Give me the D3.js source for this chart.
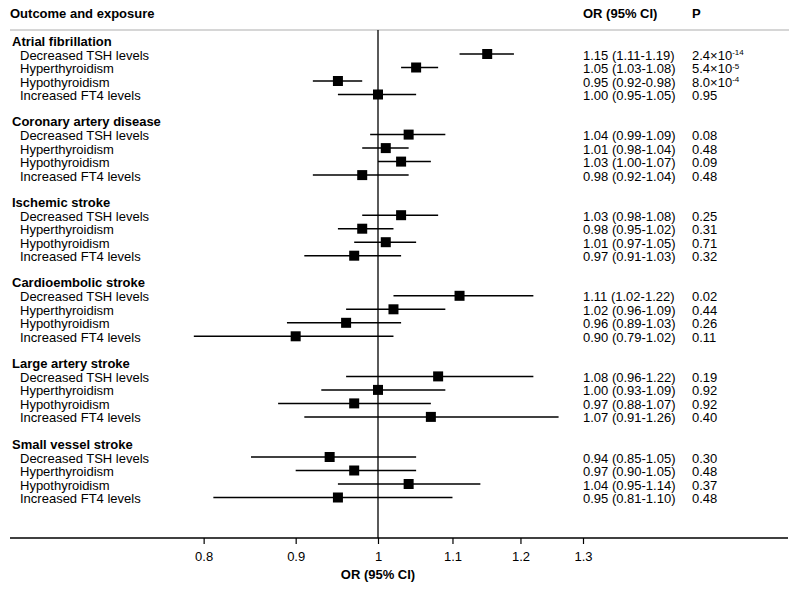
<!DOCTYPE html>
<html>
<head>
<meta charset="utf-8">
<script src="https://cdn.jsdelivr.net/npm/d3@7"></script>
<style>
  body { margin: 0; background: #fff; }
  svg { font-family: "Liberation Sans", Arial, Helvetica, sans-serif; }
</style>
</head>
<body>
<svg id="chart" width="800" height="596"></svg>
<script>
// Forest plot data
const outcomes = ["Atrial fibrillation", "Coronary artery disease", "Ischemic stroke",
                  "Cardioembolic stroke", "Large artery stroke", "Small vessel stroke"];
const exposures = ["Decreased TSH levels", "Hyperthyroidism", "Hypothyroidism", "Increased FT4 levels"];

const orValues = [
  [1.15, 1.05, 0.95, 1.00],
  [1.04, 1.01, 1.03, 0.98],
  [1.03, 0.98, 1.01, 0.97],
  [1.11, 1.02, 0.96, 0.90],
  [1.08, 1.00, 0.97, 1.07],
  [0.94, 0.97, 1.04, 0.95]
];
const lowerCI = [
  [1.11, 1.03, 0.92, 0.95],
  [0.99, 0.98, 1.00, 0.92],
  [0.98, 0.95, 0.97, 0.91],
  [1.02, 0.96, 0.89, 0.79],
  [0.96, 0.93, 0.88, 0.91],
  [0.85, 0.90, 0.95, 0.81]
];
const upperCI = [
  [1.19, 1.08, 0.98, 1.05],
  [1.09, 1.04, 1.07, 1.04],
  [1.08, 1.02, 1.05, 1.03],
  [1.22, 1.09, 1.03, 1.02],
  [1.22, 1.09, 1.07, 1.26],
  [1.05, 1.05, 1.14, 1.10]
];
const pValues = [
  ["2.4×10^-14", "5.4×10^-5", "8.0×10^-4", "0.95"],
  ["0.08", "0.48", "0.09", "0.48"],
  ["0.25", "0.31", "0.71", "0.32"],
  ["0.02", "0.44", "0.26", "0.11"],
  ["0.19", "0.92", "0.92", "0.40"],
  ["0.30", "0.48", "0.37", "0.48"]
];
const tickValues = [0.8, 0.9, 1, 1.1, 1.2, 1.3];

const svg = d3.select("#chart");
const fs = 13;

const x = d3.scaleLog().domain([1, 1.3]).range([378, 583]);

const plotTop = 30, axisY = 538;
const sectionY = s => 41 + s * 80.6;
const rowY = (s, r) => sectionY(s) + 14 + r * 13.5;

// header
svg.append("text").attr("x", 10).attr("y", 13).attr("dy", "0.35em")
  .attr("font-size", fs).attr("font-weight", "bold").text("Outcome and exposure");
svg.append("text").attr("x", 583).attr("y", 13).attr("dy", "0.35em")
  .attr("font-size", fs).attr("font-weight", "bold").text("OR (95% CI)");
svg.append("text").attr("x", 692).attr("y", 13).attr("dy", "0.35em")
  .attr("font-size", fs).attr("font-weight", "bold").text("P");

svg.append("line").attr("x1", 10).attr("x2", 789).attr("y1", plotTop).attr("y2", plotTop)
  .attr("stroke", "#c8c8c8").attr("stroke-width", 1.5);

// reference line at OR = 1
svg.append("line").attr("x1", x(1)).attr("x2", x(1)).attr("y1", plotTop).attr("y2", axisY)
  .attr("stroke", "#000").attr("stroke-width", 1.3);

// x axis
svg.append("line").attr("x1", 10).attr("x2", 788).attr("y1", axisY).attr("y2", axisY)
  .attr("stroke", "#000").attr("stroke-width", 1.3);
const axis = d3.axisBottom(x).tickValues(tickValues).tickFormat(d3.format("")).tickSize(6).tickSizeOuter(0);
const axisG = svg.append("g").attr("transform", `translate(0,${axisY})`).call(axis);
axisG.select(".domain").remove();
axisG.selectAll("line").attr("stroke", "#000").attr("stroke-width", 1.2);
axisG.selectAll("text").attr("font-size", fs).attr("font-family", null).attr("fill", "#000").attr("dy", "1.1em");
svg.append("text").attr("x", x(1)).attr("y", 579).attr("text-anchor", "middle")
  .attr("font-size", fs).attr("font-weight", "bold").text("OR (95% CI)");

// sections
outcomes.forEach((outcome, s) => {
  svg.append("text").attr("x", 12).attr("y", sectionY(s)).attr("dy", "0.35em")
    .attr("font-size", fs).attr("font-weight", "bold").text(outcome);

  exposures.forEach((exp, r) => {
    const y = rowY(s, r);
    svg.append("text").attr("x", 20).attr("y", y).attr("dy", "0.35em")
      .attr("font-size", fs).text(exp);

    svg.append("line")
      .attr("x1", x(lowerCI[s][r])).attr("x2", x(upperCI[s][r]))
      .attr("y1", y - 1).attr("y2", y - 1)
      .attr("stroke", "#000").attr("stroke-width", 1.5);
    svg.append("rect")
      .attr("x", x(orValues[s][r]) - 5).attr("y", y - 6)
      .attr("width", 10).attr("height", 10).attr("fill", "#000");

    const f = d3.format(".2f");
    svg.append("text").attr("x", 583).attr("y", y).attr("dy", "0.35em")
      .attr("font-size", fs)
      .text(`${f(orValues[s][r])} (${f(lowerCI[s][r])}-${f(upperCI[s][r])})`);

    const pt = svg.append("text").attr("x", 692).attr("y", y).attr("dy", "0.35em")
      .attr("font-size", fs);
    const parts = pValues[s][r].split("^");
    pt.append("tspan").text(parts[0]);
    if (parts[1]) {
      pt.append("tspan").attr("font-size", 8).attr("dy", "-0.55em").text(parts[1]);
    }
  });
});
</script>
</body>
</html>
